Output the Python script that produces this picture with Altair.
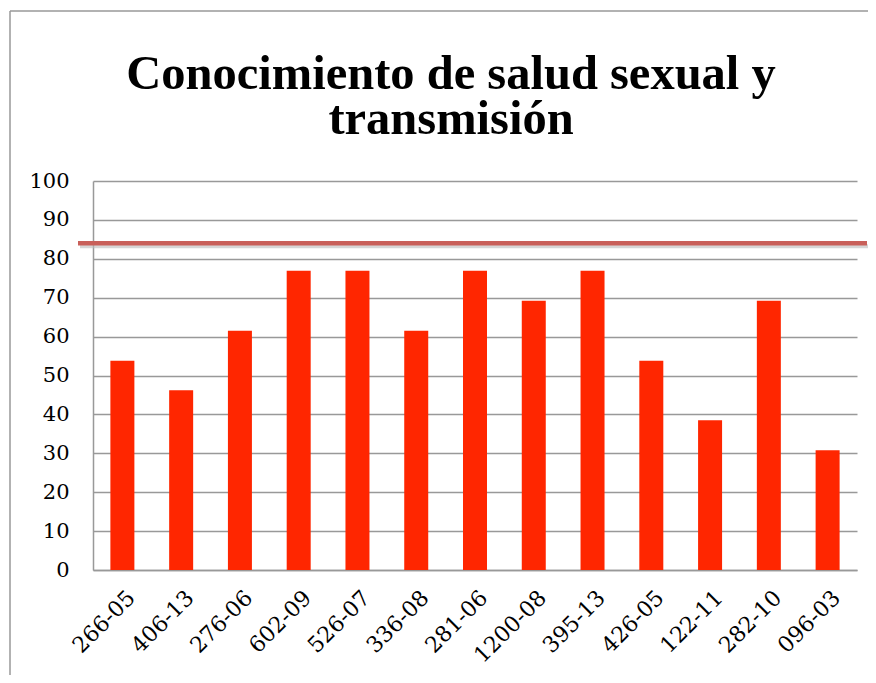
import altair as alt
import pandas as pd

categories = ["266-05", "406-13", "276-06", "602-09", "526-07", "336-08", "281-06",
              "1200-08", "395-13", "426-05", "122-11", "282-10", "096-03"]
values = [53.8, 46.2, 61.5, 76.9, 76.9, 61.5, 76.9, 69.2, 76.9, 53.8, 38.5, 69.2, 30.8]
threshold = [84]
title_lines = ["Conocimiento de salud sexual y", "transmisión"]

df = pd.DataFrame({"cat": categories, "val": values})
FONT = "DejaVu Serif"

yscale = alt.Scale(domain=[0, 100])
yaxis = alt.Axis(values=list(range(0, 101, 10)), labelFontSize=21, labelFont=FONT,
                 labelColor="#000", ticks=False, domainColor="#999", domainWidth=1.5,
                 gridColor="#999", gridWidth=1.5, labelPadding=24, labelOverlap=False)

bars = alt.Chart(df).mark_bar(color="#FF2600", size=24).encode(
    x=alt.X("cat:N", sort=categories, title=None,
            axis=alt.Axis(labelAngle=-45, labelFontSize=22, labelFont=FONT, labelColor="#000",
                          ticks=False, domainColor="#999", domainWidth=1.5, labelPadding=24,
                          labelOffset=9, labelAlign="right", labelBaseline="middle",
                          labelOverlap=False)),
    y=alt.Y("val:Q", scale=yscale, title=None, axis=yaxis),
)

tdf = pd.DataFrame({"t": threshold})
shadow = alt.Chart(tdf).mark_rule(color="#bbbbbb", strokeWidth=4, opacity=0.6, yOffset=3).encode(
    y=alt.Y("t:Q", scale=yscale, title=None, axis=yaxis), x=alt.value(-13), x2=alt.value(776))
rule = alt.Chart(tdf).mark_rule(color="#C9605A", strokeWidth=4.5).encode(
    y=alt.Y("t:Q", scale=yscale, title=None, axis=yaxis), x=alt.value(-15), x2=alt.value(774))

frame_top = alt.Chart(alt.Data(values=[{}])).mark_rule(color="#999", strokeWidth=1.5).encode(
    x=alt.value(-83), x2=alt.value(900), y=alt.value(-170))
frame_left = alt.Chart(alt.Data(values=[{}])).mark_rule(color="#999", strokeWidth=1.5).encode(
    x=alt.value(-83), y=alt.value(-170), y2=alt.value(700))

tdf2 = pd.DataFrame({"line": title_lines, "i": [0, 1]})
tbase = alt.Chart(tdf2).mark_text(font="Liberation Serif", fontSize=48.5, fontWeight="bold",
                                  color="#000", align="center", baseline="alphabetic")
title1 = tbase.transform_filter("datum.i == 0").encode(text="line:N", x=alt.value(358), y=alt.value(-92))
title2 = tbase.transform_filter("datum.i == 1").encode(text="line:N", x=alt.value(358), y=alt.value(-47))

chart = alt.layer(frame_top, frame_left, bars, shadow, rule, title1, title2).properties(
    width=764, height=389,
    padding={"left": 85, "top": 173, "right": 11, "bottom": 105},
    autosize=alt.AutoSizeParams(type="none"),
).configure_view(stroke=None)

chart.save("out.html", embed_options={"renderer": "svg", "actions": False})
